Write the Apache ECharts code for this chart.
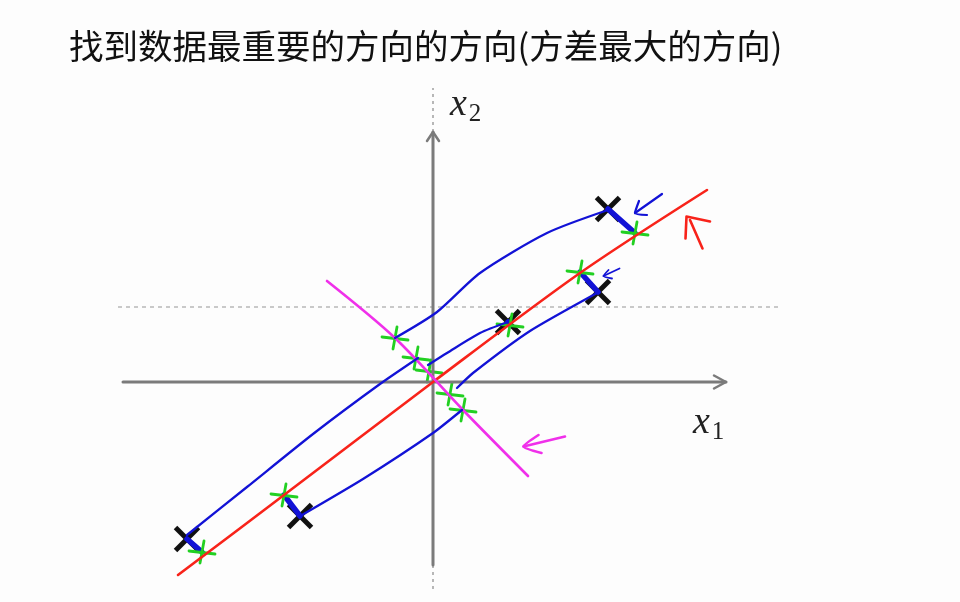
<!DOCTYPE html>
<html>
<head>
<meta charset="utf-8">
<script src="https://cdn.jsdelivr.net/npm/echarts@6/dist/echarts.min.js"></script>
<style>html,body{margin:0;padding:0;background:#fdfdfd;}#c{width:960px;height:602px;}</style>
</head>
<body>
<div id="c"></div>
<script>
// ---- data (units: one unit = one grid step of the sketch) ----
const titleText = '找到数据最重要的方向的方向(方差最大的方向)';
const pointX1 = [3.52, 1.52, 3.32, -4.90, -2.64];
const pointX2 = [3.46, 1.20, 1.80, -3.14, -2.68];
const projRedX1 = [4.06, 1.56, 2.96, -4.60, -2.96];
const projRedX2 = [2.98, 1.14, 2.20, -3.40, -2.26];
const projMagX1 = [-0.74, -0.06, 0.36, -0.32, 0.62];
const projMagX2 = [0.88, 0.22, -0.24, 0.48, -0.56];
const redLine = [[-5.08,-3.86],[-2.96,-2.26],[0.02,0.0],[2.96,2.18],[5.50,3.84]];
const magentaLine = [[-2.10,2.02],[-0.74,0.88],[0.62,-0.56],[1.92,-1.88]];
const blueLine1 = [[3.52,3.44],[2.30,2.98],[0.96,2.18],[0.10,1.40],[-0.74,0.88]];
const blueLine2 = [[-4.90,-3.06],[-3.70,-2.10],[-2.38,-1.04],[-1.04,-0.04],[-0.28,0.48]];
const blueLine3 = [[1.52,1.20],[0.96,0.98],[0.30,0.58],[-0.08,0.34]];
const blueLine4 = [[3.30,1.78],[1.96,1.02],[0.82,0.18],[0.50,-0.12]];
const blueLine5 = [[-2.60,-2.66],[-1.38,-1.94],[0.02,-1.02],[0.60,-0.56]];
const xAxisLine = [[-6.18,0],[5.88,0]];
const xAxisHead = [[5.64,0.13],[5.88,0],[5.64,-0.13]];
const yAxisLine = [[0.02,-3.66],[0.02,5.0]];
const yAxisHead = [[-0.10,4.82],[0.02,5.0],[0.14,4.82]];
const yAxisDashTop = [[0.02,5.0],[0.02,5.88]];
const yAxisDashBottom = [[0.02,-3.66],[0.02,-4.16]];
const meanLine = [[-6.28,1.5],[7.0,1.5]];
const blueArrow1 = [[4.14,3.62],[4.06,3.38],[4.30,3.34]];
const blueArrow1Shaft = [[4.60,3.76],[4.06,3.38]];
const blueArrow2 = [[3.53,2.24],[3.43,2.12],[3.60,2.07]];
const blueArrow2Shaft = [[3.75,2.27],[3.43,2.12]];
const redArrow = [[5.07,2.87],[5.09,3.31],[5.56,3.21]];
const redArrowShaft = [[5.16,3.24],[5.41,2.67]];
const magArrow = [[2.13,-1.06],[1.83,-1.29],[2.19,-1.42]];
const magArrowShaft = [[2.66,-1.09],[1.83,-1.29]];

const RED = '#f8231a', BLUE = '#1212d6', MAG = '#f030ea', GREEN = '#22d022', AXIS = '#7b7b7b';

function stroke(data, color, width, extra) {
  return Object.assign({
    type: 'line', data: data, symbol: 'none', silent: true, animation: false,
    lineStyle: { color: color, width: width, cap: 'round', join: 'round' }
  }, extra || {});
}

const xMarks = pointX1.map((v, i) => [v, pointX2[i]]);
const redMarks = projRedX1.map((v, i) => [v, projRedX2[i]]);
const magMarks = projMagX1.map((v, i) => [v, projMagX2[i]]);

const series = [
  stroke(meanLine, '#a8a8a8', 1.2, { lineStyle: { color: '#a8a8a8', width: 1.2, type: [4, 4] } }),
  stroke(yAxisDashTop, '#a0a0a0', 1.5, { lineStyle: { color: '#a0a0a0', width: 1.5, type: [3, 4] } }),
  stroke(yAxisDashBottom, '#a0a0a0', 1.5, { lineStyle: { color: '#a0a0a0', width: 1.5, type: [3, 4] } }),
  stroke(xAxisLine, AXIS, 3),
  stroke(xAxisHead, AXIS, 2.5),
  stroke(yAxisLine, AXIS, 3),
  stroke(yAxisHead, AXIS, 2.5),
  stroke(redLine, RED, 2.6, { smooth: 0.3 }),
  stroke(magentaLine, MAG, 2.6, { smooth: 0.3 }),
  stroke(blueLine1, BLUE, 2.3, { smooth: 0.25 }),
  stroke(blueLine2, BLUE, 2.3, { smooth: 0.2 }),
  stroke(blueLine3, BLUE, 2.3, { smooth: 0.25 }),
  stroke(blueLine4, BLUE, 2.3, { smooth: 0.2 }),
  stroke(blueLine5, BLUE, 2.3, { smooth: 0.2 }),
  {
    type: 'custom', silent: true, animation: false, data: xMarks,
    renderItem: function (params, api) {
      const c = api.coord([api.value(0), api.value(1)]);
      const s = 11.5;
      return { type: 'group', children: [
        { type: 'line', shape: { x1: c[0] - s, y1: c[1] - s, x2: c[0] + s, y2: c[1] + s }, style: { stroke: '#111', lineWidth: 5 } },
        { type: 'line', shape: { x1: c[0] - s, y1: c[1] + s, x2: c[0] + s, y2: c[1] - s }, style: { stroke: '#111', lineWidth: 5 } }
      ]};
    }
  },
  {
    type: 'custom', silent: true, animation: false, data: xMarks.map((p, i) => [p[0], p[1], redMarks[i][0], redMarks[i][1]]),
    renderItem: function (params, api) {
      const a = api.coord([api.value(0), api.value(1)]);
      const b = api.coord([api.value(2), api.value(3)]);
      return { type: 'line', shape: { x1: a[0], y1: a[1], x2: b[0], y2: b[1] }, style: { stroke: BLUE, lineWidth: 5.5, lineCap: 'round' } };
    }
  },
  {
    type: 'custom', silent: true, animation: false, data: redMarks.concat(magMarks),
    renderItem: function (params, api) {
      const c = api.coord([api.value(0), api.value(1)]);
      return { type: 'group', children: [
        { type: 'line', shape: { x1: c[0] - 13, y1: c[1] - 1, x2: c[0] + 13, y2: c[1] + 2 }, style: { stroke: GREEN, lineWidth: 2.8, lineCap: 'round' } },
        { type: 'line', shape: { x1: c[0] + 2, y1: c[1] - 11, x2: c[0] - 2, y2: c[1] + 11 }, style: { stroke: GREEN, lineWidth: 2.8, lineCap: 'round' } }
      ]};
    }
  },
  stroke(blueArrow1, BLUE, 2.2, { smooth: 0.2 }),
  stroke(blueArrow1Shaft, BLUE, 2.2),
  stroke(blueArrow2, BLUE, 1.8, { smooth: 0.2 }),
  stroke(blueArrow2Shaft, BLUE, 1.8),
  stroke(redArrow, RED, 2.6),
  stroke(redArrowShaft, RED, 2.6),
  stroke(magArrow, MAG, 2.6, { smooth: 0.2 }),
  stroke(magArrowShaft, MAG, 2.6)
];

const chart = echarts.init(document.getElementById('c'), null, { renderer: 'canvas' });
chart.setOption({
  backgroundColor: '#fdfdfd',
  animation: false,
  title: {
    text: titleText, left: 69, top: 29, padding: 0,
    textStyle: { fontFamily: 'Noto Sans CJK SC', fontSize: 34.5, fontWeight: 'normal', color: '#111' }
  },
  grid: { left: 0, right: 0, top: 0, bottom: 0 },
  xAxis: { type: 'value', min: -8.64, max: 10.56, show: false },
  yAxis: { type: 'value', min: -4.4, max: 7.64, show: false },
  graphic: [
    { type: 'text', left: 693, top: 404, style: {
        text: '{v|x}{s|1}', rich: {
          v: { fontFamily: 'Liberation Serif', fontStyle: 'italic', fontSize: 38, fill: '#222' },
          s: { fontFamily: 'Liberation Serif', fontSize: 25, fill: '#222', padding: [18, 0, 0, 2] }
        } } },
    { type: 'text', left: 450, top: 86, style: {
        text: '{v|x}{s|2}', rich: {
          v: { fontFamily: 'Liberation Serif', fontStyle: 'italic', fontSize: 38, fill: '#222' },
          s: { fontFamily: 'Liberation Serif', fontSize: 25, fill: '#222', padding: [18, 0, 0, 2] }
        } } }
  ],
  series: series
});
</script>
</body>
</html>
